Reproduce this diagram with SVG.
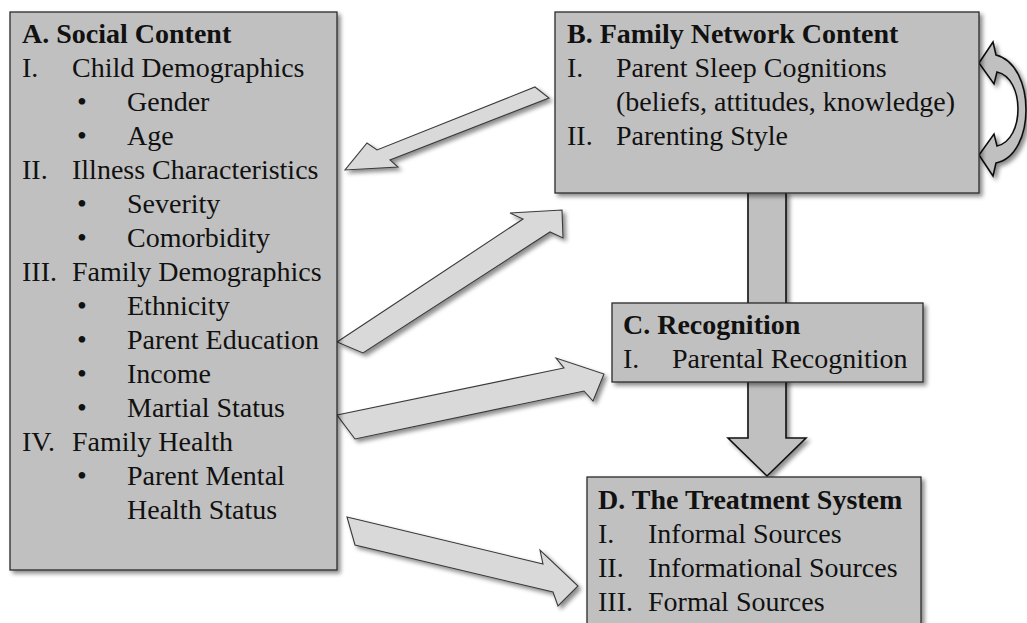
<svg xmlns="http://www.w3.org/2000/svg" width="1027" height="623" viewBox="0 0 1027 623">
  <defs>
    <filter id="shadow" x="-10%" y="-10%" width="130%" height="130%">
      <feDropShadow dx="3" dy="3" stdDeviation="2" flood-color="#000" flood-opacity="0.45"/>
    </filter>
  </defs>
  <style>
    .box { fill: #c0c0c0; stroke: #2b2b2b; stroke-width: 1.3; filter: url(#shadow); }
    .block { fill: #d9d9d9; stroke: #3a3a3a; stroke-width: 1.1; stroke-linejoin: miter; filter: url(#shadow); }
    .heavy { fill: #c0c0c0; stroke: #111; stroke-width: 1.6; filter: url(#shadow); }
    text { font-family: "Liberation Serif", "Times New Roman", serif; font-size: 28px; fill: #111; }
    .title { font-weight: bold; }
  </style>

  <rect width="1027" height="623" fill="#ffffff"/>

  <!-- connectors: block arrows between the components -->
  <g id="connectors">
    <!-- B down through C to D -->
    <polygon class="heavy" points="748,192 786,192 786,438 806,438 767,476 728,438 748,438"/>
    <!-- B feeds back to A -->
    <polygon class="block" points="535,87 549,98 390,160 398,167 345,170 367,143 377,150"/>
    <!-- A to B -->
    <polygon class="block" points="337,342 523,219 510,213 562,210 563,238 550,232 363,353"/>
    <!-- A to C -->
    <polygon class="block" points="337,415 564,368 556,358 604,374 593,401 584,391 355,439"/>
    <!-- A to D -->
    <polygon class="block" points="347,517 543,564 540,550 578,586 558,606 553,592 355,545"/>
    <!-- B self loop -->
    <path class="heavy" stroke-width="1.3" d="M979,63 L993,42 L996,55 C1036,65 1036,155 996,163 L993,176 L979,155 L994,134 L997,146 C1025,140 1025,78 997,72 L994,84 Z"/>
  </g>

  <g id="node-a">
    <rect class="box" x="10" y="12" width="327" height="558"/>
    <text class="title" x="22" y="43">A. Social Content</text>
    <text x="22" y="77">I.</text><text x="72" y="77">Child Demographics</text>
    <text x="77" y="111">•</text><text x="127" y="111">Gender</text>
    <text x="77" y="145">•</text><text x="127" y="145">Age</text>
    <text x="22" y="179">II.</text><text x="72" y="179">Illness Characteristics</text>
    <text x="77" y="213">•</text><text x="127" y="213">Severity</text>
    <text x="77" y="247">•</text><text x="127" y="247">Comorbidity</text>
    <text x="22" y="281">III.</text><text x="72" y="281">Family Demographics</text>
    <text x="77" y="315">•</text><text x="127" y="315">Ethnicity</text>
    <text x="77" y="349">•</text><text x="127" y="349">Parent Education</text>
    <text x="77" y="383">•</text><text x="127" y="383">Income</text>
    <text x="77" y="417">•</text><text x="127" y="417">Martial Status</text>
    <text x="22" y="451">IV.</text><text x="72" y="451">Family Health</text>
    <text x="77" y="485">•</text><text x="127" y="485">Parent Mental</text>
    <text x="127" y="519">Health Status</text>
  </g>

  <g id="node-b">
    <rect class="box" x="555" y="12" width="424" height="181"/>
    <text class="title" x="567" y="43">B. Family Network Content</text>
    <text x="567" y="77">I.</text><text x="616" y="77">Parent Sleep Cognitions</text>
    <text x="616" y="111">(beliefs, attitudes, knowledge)</text>
    <text x="567" y="145">II.</text><text x="616" y="145">Parenting Style</text>
  </g>

  <g id="node-c">
    <rect class="box" x="612" y="303" width="311" height="79"/>
    <text class="title" x="623" y="334">C. Recognition</text>
    <text x="623" y="368">I.</text><text x="672" y="368">Parental Recognition</text>
  </g>

  <g id="node-d">
    <rect class="box" x="587" y="477" width="334" height="170"/>
    <text class="title" x="598" y="509">D. The Treatment System</text>
    <text x="598" y="543">I.</text><text x="648" y="543">Informal Sources</text>
    <text x="598" y="577">II.</text><text x="648" y="577">Informational Sources</text>
    <text x="598" y="611">III.</text><text x="648" y="611">Formal Sources</text>
  </g>
</svg>
